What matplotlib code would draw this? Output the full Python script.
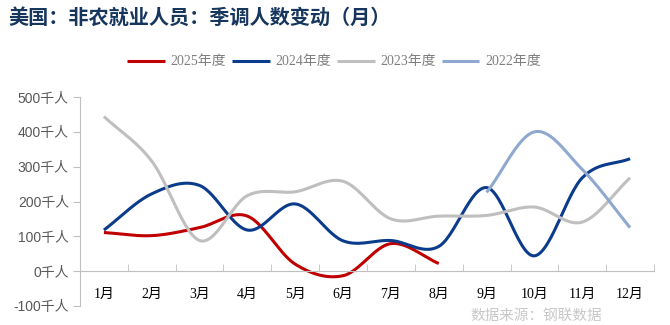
import numpy as np
import matplotlib
matplotlib.use("Agg")
import matplotlib.pyplot as plt

plt.rcParams['font.family'] = ['Liberation Serif', 'Noto Sans CJK SC', 'DejaVu Sans']

months = ['1月', '2月', '3月', '4月', '5月', '6月', '7月', '8月', '9月', '10月', '11月', '12月']
y2025 = [111, 102, 125, 158, 20, -13, 79, 22]
y2024 = [118, 222, 246, 118, 193, 87, 88, 71, 240, 44, 268, 323]
y2023 = [444, 316, 88, 217, 228, 258, 150, 158, 160, 184, 141, 268]
y2022_months = [8, 9, 10, 11]
y2022 = [226, 400, 292, 125]
yticks = [-100, 0, 100, 200, 300, 400, 500]


def smooth(xs, ys, n=30):
    # Catmull-Rom curve through the points, like Excel's smoothed line
    xs = np.asarray(xs, float)
    ys = np.asarray(ys, float)
    px = np.concatenate([[2 * xs[0] - xs[1]], xs, [2 * xs[-1] - xs[-2]]])
    py = np.concatenate([[2 * ys[0] - ys[1]], ys, [2 * ys[-1] - ys[-2]]])
    ox, oy = [], []
    t = np.linspace(0, 1, n)
    for i in range(1, len(px) - 2):
        for p, out in ((px, ox), (py, oy)):
            p0, p1, p2, p3 = p[i - 1], p[i], p[i + 1], p[i + 2]
            out.extend(0.5 * (2 * p1 + (-p0 + p2) * t
                              + (2 * p0 - 5 * p1 + 4 * p2 - p3) * t ** 2
                              + (-p0 + 3 * p1 - 3 * p2 + p3) * t ** 3))
    return ox, oy


fig = plt.figure(figsize=(6.7, 3.25), dpi=100)
ax = fig.add_axes([80 / 670, 1 - 306 / 325, (654 - 80) / 670, (306 - 97) / 325])

series = [
    (range(len(y2025)), y2025, '#C00000', '2025年度'),
    (range(len(y2024)), y2024, '#0B3C8C', '2024年度'),
    (range(len(y2023)), y2023, '#BFBFBF', '2023年度'),
    (y2022_months, y2022, '#8FA8CF', '2022年度'),
]
for xs, ys, c, lab in series:
    sx, sy = smooth(list(xs), ys)
    ax.plot(sx, sy, color=c, lw=2.2, label=lab, solid_capstyle='butt')

ax.set_xlim(-0.5, 11.5)
ax.set_ylim(-100, 500)

ax.set_yticks(yticks)
ax.set_yticklabels([f'{v}千人' for v in yticks], fontsize=10, color='#595959',
                   family=['Liberation Sans', 'Noto Sans CJK SC'])
ax.tick_params(axis='y', direction='out', length=5, color='#BFBFBF', pad=3)

ax.set_xticks(range(12))
ax.set_xticklabels(months, fontsize=10, color='#404040')
ax.set_xticks(np.arange(-0.5, 12, 1), minor=True)
ax.tick_params(axis='x', which='major', length=0, pad=12)
ax.tick_params(axis='x', which='minor', direction='in', length=5, color='#BFBFBF')

ax.spines['bottom'].set_position(('data', 0))
ax.spines['bottom'].set_color('#BFBFBF')
ax.spines['left'].set_color('#BFBFBF')
ax.spines['top'].set_visible(False)
ax.spines['right'].set_visible(False)

fig.text(8 / 670, 1 - 17 / 325, '美国：非农就业人员：季调人数变动（月）',
         fontsize=14.5, fontweight='bold', color='#17365D',
         family=['Noto Sans CJK SC'], va='center', ha='left')

leg = fig.legend(loc='center', bbox_to_anchor=(334 / 670, 1 - 62 / 325), ncol=4,
                 frameon=False, fontsize=10, handlelength=2.7, handletextpad=0.4,
                 columnspacing=0.45)
for t in leg.get_texts():
    t.set_color('#7F7F7F')

fig.text(602 / 670, 1 - 316 / 325, '数据来源：钢联数据', fontsize=10.5, color='#C8C8C8',
         family=['Noto Sans CJK SC'], ha='right', va='center')

fig.savefig('out.png', dpi=100)
